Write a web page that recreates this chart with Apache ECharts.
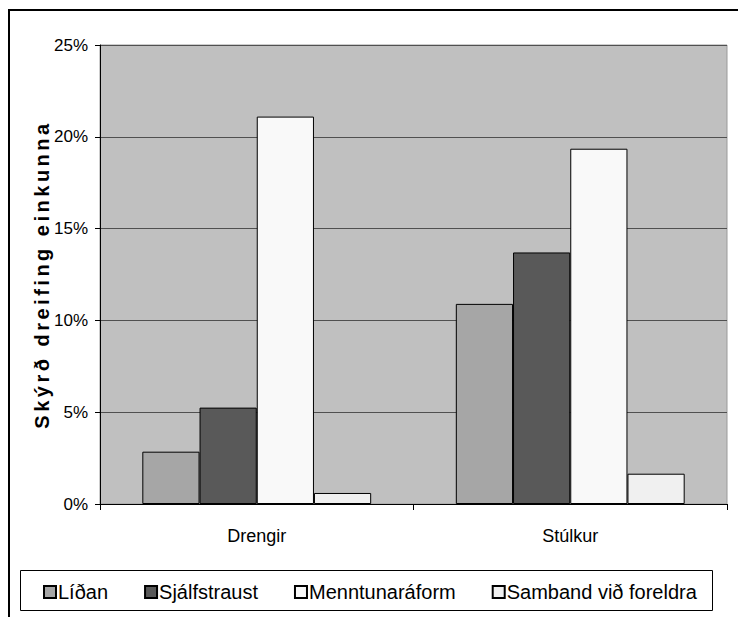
<!DOCTYPE html>
<html>
<head>
<meta charset="utf-8">
<script src="https://cdn.jsdelivr.net/npm/echarts@6/dist/echarts.min.js"></script>
<style>
html,body{margin:0;padding:0;background:#fff;}
#c{width:738px;height:617px;}
</style>
</head>
<body>
<div id="c"></div>
<script>
const categories = ['Drengir', 'Stúlkur'];
const seriesNames = ['Líðan', 'Sjálfstraust', 'Menntunaráform', 'Samband við foreldra'];
const lidan = [2.85, 10.9];
const sjalfstraust = [5.25, 13.7];
const menntunaraform = [21.1, 19.35];
const samband = [0.6, 1.65];
const yTicks = [0, 5, 10, 15, 20, 25];
const yTitle = 'Skýrð dreifing einkunna';

const colors = ['#A6A6A6', '#595959', '#F9F9F9', '#F0F0F0'];
const values = [lidan, sjalfstraust, menntunaraform, samband];

const chart = echarts.init(document.getElementById('c'), null, {renderer: 'svg'});
const option = {
  animation: false,
  backgroundColor: '#ffffff',
  grid: {
    left: 100, right: 11, top: 45, bottom: 113,
    show: true, backgroundColor: '#C0C0C0', borderColor: '#9a9a9a', borderWidth: 1
  },
  legend: {
    left: 38, top: 577, width: 690,
    itemWidth: 12, itemHeight: 12, itemGap: 36,
    icon: 'rect',
    textStyle: {fontFamily: 'Liberation Sans', fontSize: 20, color: '#000', padding: [0, 0, 0, -3]},
    data: seriesNames
  },
  xAxis: {
    type: 'category',
    data: categories,
    axisLine: {lineStyle: {color: '#000', width: 1}},
    axisTick: {show: true, length: 6, lineStyle: {color: '#000'}},
    axisLabel: {fontFamily: 'Liberation Sans', fontSize: 18, color: '#000', margin: 23},
    splitLine: {show: false}
  },
  yAxis: {
    type: 'value',
    min: yTicks[0], max: yTicks[yTicks.length - 1], interval: 5,
    name: yTitle,
    nameLocation: 'middle',
    nameRotate: 90,
    nameGap: 48,
    nameMoveOverlap: false,
    nameTextStyle: {fontFamily: 'Liberation Sans', fontWeight: 'bold', fontSize: 20, color: '#000'},
    axisLine: {show: true, lineStyle: {color: '#000', width: 1}},
    axisTick: {show: true, length: 5, lineStyle: {color: '#000'}},
    axisLabel: {formatter: '{value}%', fontFamily: 'Liberation Sans', fontSize: 17, color: '#000', margin: 12},
    splitLine: {show: true, lineStyle: {color: '#505050', width: 1}}
  },
  graphic: [
    {type: 'rect', silent: true, z: 100, shape: {x: 9, y: 10, width: 800, height: 700},
     style: {fill: 'none', stroke: '#000', lineWidth: 2}},
    {type: 'rect', silent: true, z: 100, shape: {x: 20.5, y: 570.5, width: 692, height: 40},
     style: {fill: 'none', stroke: '#000', lineWidth: 1}}
  ],
  series: seriesNames.map((n, i) => ({
    name: n,
    type: 'bar',
    data: values[i],
    barGap: '0%',
    barCategoryGap: '27%',
    itemStyle: {color: colors[i], borderColor: '#000', borderWidth: 1}
  }))
};
chart.setOption(option);

function spaceTitle() {
  document.querySelectorAll('#c text').forEach(t => {
    if (t.textContent === yTitle) {
      t.setAttribute('letter-spacing', '3.5px');
      t.style.letterSpacing = '3.5px';
    }
  });
}
spaceTitle();
chart.on('finished', spaceTitle);
</script>
</body>
</html>
